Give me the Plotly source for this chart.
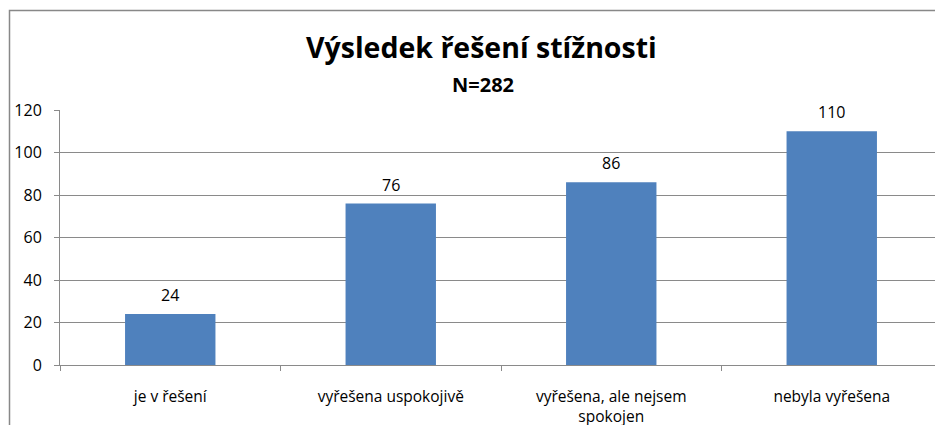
import plotly.graph_objects as go

categories = ["je v řešení", "vyřešena uspokojivě", "vyřešena, ale nejsem<br>spokojen", "nebyla vyřešena"]
values = [24, 76, 86, 110]
y_ticks = [0, 20, 40, 60, 80, 100, 120]
title_text = "Výsledek řešení stížnosti"
subtitle_text = "N=282"

FONT = "Open Sans"
GRID = "#8a8a8a"

# page body has an 8px margin; figure coordinates are reference minus 8
W, H = 935, 417
L, T, B, R = 52, 102, 60, 1
PW, PH = W - L - R, H - T - B


def px_x(x):
    return (x - 8 - L) / PW


def px_y(y):
    return (H - B - (y - 8)) / PH


fig = go.Figure(go.Bar(
    x=categories, y=values,
    marker=dict(color="#4F81BD", line=dict(width=0)),
    width=0.41,
))

label_annotations = [
    dict(x=c, y=v, xref="x", yref="y", text=str(v), showarrow=False,
         xanchor="center", yanchor="bottom", yshift=6,
         font=dict(family=FONT, size=16, color="#000000"))
    for c, v in zip(categories, values)
]

fig.update_layout(
    width=W, height=H,
    margin=dict(l=L, r=R, t=T, b=B, autoexpand=False),
    paper_bgcolor="white", plot_bgcolor="white",
    showlegend=False,
    font=dict(family=FONT, color="#000000"),
    xaxis=dict(
        type="category", showgrid=False, automargin=False,
        showline=True, linecolor=GRID, linewidth=1,
        ticks="outside", tickson="boundaries", ticklen=5, tickcolor=GRID,
        tickfont=dict(family=FONT, size=15.5, color="#000000"),
        ticklabelstandoff=17,
    ),
    yaxis=dict(
        range=[0, 120], tickvals=y_ticks, automargin=False,
        showgrid=True, gridcolor=GRID, gridwidth=1,
        showline=True, linecolor=GRID, linewidth=1,
        ticks="outside", ticklen=5, tickcolor=GRID,
        tickfont=dict(family=FONT, size=16, color="#000000"),
        ticklabelstandoff=9, zeroline=False,
    ),
    annotations=label_annotations + [
        dict(text="<b>" + title_text + "</b>", xref="paper", yref="paper",
             x=px_x(481), y=px_y(47), xanchor="center", yanchor="middle",
             showarrow=False, font=dict(family=FONT, size=28.5, color="#000000")),
        dict(text="<b>" + subtitle_text + "</b>", xref="paper", yref="paper",
             x=px_x(483), y=px_y(85), xanchor="center", yanchor="middle",
             showarrow=False, font=dict(family=FONT, size=20, color="#000000")),
    ],
    shapes=[
        dict(type="rect", xref="paper", yref="paper",
             x0=px_x(9.5), x1=px_x(960),
             y0=px_y(440), y1=px_y(10.5),
             line=dict(color="#888888", width=1.5), fillcolor="rgba(0,0,0,0)",
             layer="below"),
    ],
)

fig.write_html("out.html")
